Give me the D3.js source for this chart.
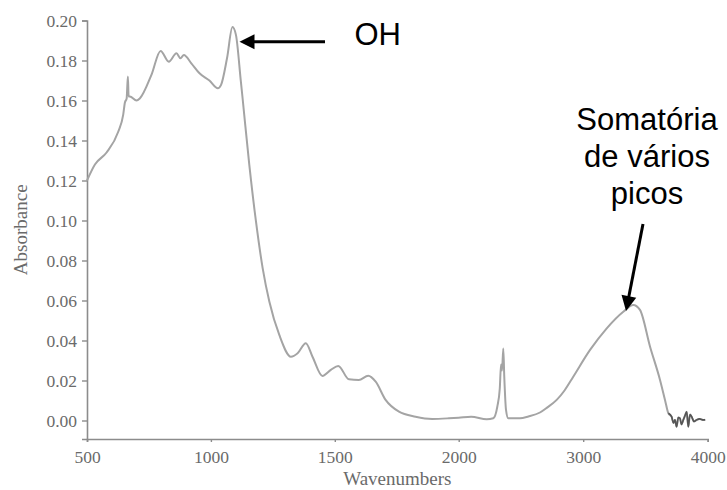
<!DOCTYPE html>
<html>
<head>
<meta charset="utf-8">
<script src="https://cdn.jsdelivr.net/npm/d3@7"></script>
<style>
  html, body { margin: 0; padding: 0; background: #fff; }
  svg { display: block; }
</style>
</head>
<body>
<svg id="chart" width="727" height="490"></svg>
<script>
// ---- data ----
const wavenumbers = [500, 532, 579, 626, 646, 653, 660, 665, 668, 673, 700, 713, 760, 797, 830, 861, 877, 891, 921, 954, 994, 1028, 1041, 1065, 1087, 1101, 1121, 1128, 1155, 1182, 1209, 1236, 1276, 1323, 1350, 1383, 1410, 1450, 1484, 1514, 1557, 1597, 1635, 1665, 1705, 1759, 1826, 1893, 1960, 2000, 2100, 2225, 2278, 2310, 2330, 2340, 2348, 2358, 2366, 2380, 2398, 2492, 2560, 2653, 2707, 2787, 2850, 2920, 3055, 3189, 3322, 3402, 3456, 3537, 3617, 3657, 3684, 3710, 3725, 3737, 3750, 3764, 3777, 3790, 3804, 3818, 3831, 3844, 3858, 3871, 3890, 3911, 3935, 3964, 3980];
const absorbance = [0.120, 0.128, 0.134, 0.1444, 0.1528, 0.159, 0.161, 0.172, 0.162, 0.162, 0.160, 0.161, 0.1728, 0.1848, 0.1794, 0.1836, 0.1811, 0.1828, 0.1786, 0.1736, 0.170, 0.1661, 0.1678, 0.1811, 0.1967, 0.1928, 0.1694, 0.161, 0.1278, 0.0994, 0.0761, 0.0594, 0.0428, 0.0319, 0.0336, 0.0386, 0.0319, 0.0223, 0.0253, 0.0273, 0.0206, 0.0203, 0.0224, 0.0194, 0.0103, 0.0044, 0.0019, 0.0008, 0.0011, 0.0014, 0.0019, 0.0006, 0.0011, 0.0069, 0.016, 0.028, 0.025, 0.036, 0.022, 0.0053, 0.0011, 0.0011, 0.0020, 0.0040, 0.0063, 0.0103, 0.0150, 0.0219, 0.0353, 0.0461, 0.0544, 0.0578, 0.0553, 0.0369, 0.0203, 0.0103, 0.0036, 0.0019, -0.0012, 0.0003, -0.0031, 0.0015, 0.0011, -0.0020, 0.0003, 0.0025, 0.0044, -0.0031, 0.0030, 0.0019, -0.0005, 0.0003, 0.0008, 0.0003, 0.0004];
const xTicks = [500, 1000, 1500, 2000, 3000, 4000];
const yTicks = [0.00, 0.02, 0.04, 0.06, 0.08, 0.10, 0.12, 0.14, 0.16, 0.18, 0.20];
const xTitle = "Wavenumbers";
const yTitle = "Absorbance";
const noteOH = "OH";
const noteBroad = ["Somatória", "de vários", "picos"];
const noiseStart = 3684;

// ---- chart ----
const svg = d3.select("#chart");
const x = d3.scaleLinear().domain([500, 2000, 4000]).range([87, 458.7, 707.7]);
const y = d3.scaleLinear().domain([-0.00925, 0.20]).range([439, 20.5]);

const axisColor = "#8c8c8c";
const textColor = "#6a6a6a";
const serif = "'Liberation Serif', 'Times New Roman', serif";

const xAxis = svg.append("g")
  .attr("transform", `translate(0,${y(-0.00925)})`)
  .call(d3.axisBottom(x).tickValues(xTicks).tickSize(3).tickPadding(9).tickFormat(d3.format("d")));
const yAxis = svg.append("g")
  .attr("transform", `translate(${x(500)},0)`)
  .call(d3.axisLeft(y).tickValues(yTicks).tickSize(5).tickPadding(5).tickFormat(d3.format(".2f")));

[xAxis, yAxis].forEach(g => {
  g.attr("font-family", serif).attr("font-size", 17.5);
  g.select(".domain").attr("stroke", axisColor).attr("stroke-width", 1.6);
  g.selectAll(".tick line").attr("stroke", axisColor).attr("stroke-width", 1.4);
  g.selectAll(".tick text").attr("fill", textColor)
    .attr("font-family", serif).attr("font-size", 17.5);
});

svg.append("text")
  .attr("x", (x(500) + x(4000)) / 2).attr("y", 485)
  .attr("text-anchor", "middle").attr("fill", textColor)
  .attr("font-family", serif).attr("font-size", 19)
  .text(xTitle);

svg.append("text")
  .attr("transform", `translate(27,${(y(0.20) + y(-0.00925)) / 2}) rotate(-90)`)
  .attr("text-anchor", "middle").attr("fill", textColor)
  .attr("font-family", serif).attr("font-size", 19)
  .text(yTitle);

// spectrum
const pts = wavenumbers.map((w, i) => [w, absorbance[i]]);
const line = d3.line().x(d => x(d[0])).y(d => y(d[1])).curve(d3.curveMonotoneX);
svg.append("path")
  .datum(pts)
  .attr("fill", "none")
  .attr("stroke", "#a4a4a4")
  .attr("stroke-width", 2)
  .attr("stroke-linejoin", "round")
  .attr("d", line);
// noisy tail looks darker in the reference
svg.append("path")
  .datum(pts.filter(d => d[0] >= noiseStart))
  .attr("fill", "none")
  .attr("stroke", "#555")
  .attr("stroke-width", 1.6)
  .attr("stroke-linejoin", "round")
  .attr("d", line);

// annotations
const sans = "'Liberation Sans', Arial, sans-serif";
function arrow(x1, y1, x2, y2) {
  const ang = Math.atan2(y2 - y1, x2 - x1);
  const L = 15, W = 7.5;
  const bx = x2 - L * Math.cos(ang), by = y2 - L * Math.sin(ang);
  svg.append("line").attr("x1", x1).attr("y1", y1).attr("x2", bx + 3 * Math.cos(ang)).attr("y2", by + 3 * Math.sin(ang))
    .attr("stroke", "#000").attr("stroke-width", 3);
  const px = -Math.sin(ang), py = Math.cos(ang);
  svg.append("path")
    .attr("d", `M${x2},${y2}L${bx + W * px},${by + W * py}L${bx - W * px},${by - W * py}Z`)
    .attr("fill", "#000");
}

arrow(325, 41.7, 239.5, 41.7);
svg.append("text").attr("x", 354.5).attr("y", 45)
  .attr("font-family", sans).attr("font-size", 31).attr("fill", "#000")
  .text(noteOH);

arrow(643, 224, 626, 311);
const bt = svg.append("text").attr("text-anchor", "middle")
  .attr("font-family", sans).attr("font-size", 31).attr("fill", "#000");
noteBroad.forEach((s, i) => {
  bt.append("tspan").attr("x", 647).attr("y", 129.5 + i * 37).text(s);
});
</script>
</body>
</html>
